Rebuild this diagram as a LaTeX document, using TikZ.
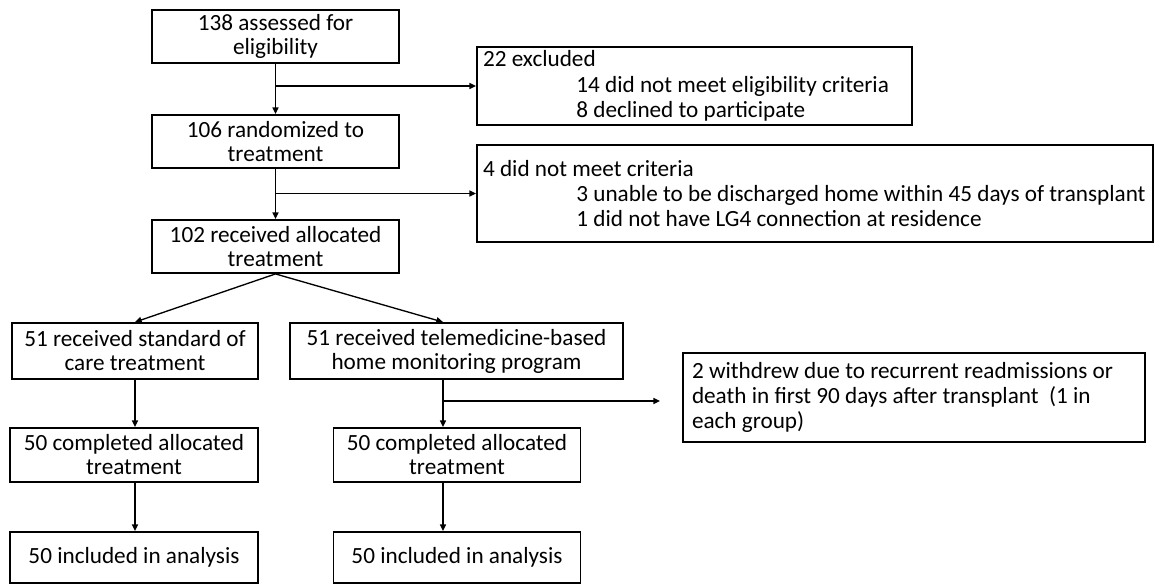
\documentclass[tikz,border=0pt]{standalone}
\usepackage{fontspec}
\setmainfont{Carlito}
\usetikzlibrary{arrows.meta,calc}

\tikzset{
  stage/.style={draw, line width=1.4pt, align=center, inner sep=2pt,
    font=\fontsize{17.4}{18}\selectfont},
  boxsize/.style 2 args={minimum width=#1*0.75pt, minimum height=#2*0.75pt},
  note/.style={draw, line width=1.4pt, align=flush left, inner ysep=2pt,
    font=\fontsize{17.4}{19}\selectfont},
  flow/.style={-{Triangle[length=5pt,width=4.5pt]}, line width=1pt},
}

\begin{document}
\begin{tikzpicture}[x=0.75pt, y=-0.75pt]
  \useasboundingbox (0,0) rectangle (1154,585);
  % main column
  \node[stage, boxsize={247}{53}] (assessed) at (275.5,36.5) {138 assessed for\\eligibility};
  \node[stage, boxsize={247}{53}] (random) at (275.5,141.5) {106 randomized to\\treatment};
  \node[stage, boxsize={247}{53}] (alloc) at (275.5,246.5) {102 received allocated\\treatment};
  % side boxes
  \node[note, inner xsep=4.5pt, text width=317.25pt, minimum height=58.5pt] (excl) at (694.5,86)
    {22 excluded\\
     \hspace*{70pt}14 did not meet eligibility criteria\\
     \hspace*{70pt}8 declined to participate};
  \node[note, inner xsep=4.5pt, text width=498pt, minimum height=72.75pt] (crit) at (815,193.5)
    {4 did not meet criteria\\
     \mbox{\hspace*{70pt}3 unable to be discharged home within 45 days of transplant}\\
     \hspace*{70pt}1 did not have LG4 connection at residence};
  % two arms
  \node[stage, boxsize={246}{56}] (std) at (135,351) {51 received standard of\\care treatment};
  \node[stage, boxsize={333}{56}] (tele) at (456.5,351) {51 received telemedicine-based\\home monitoring program};
  \node[note, inner xsep=6.75pt, text width=333pt, minimum height=66.75pt] (wd) at (914,397.5)
    {\mbox{2 withdrew due to recurrent readmissions or}\\
     \mbox{death in first 90 days after transplant~ (1 in}\\
     each group)};
  \node[stage, boxsize={248}{54}] (compL) at (134,455) {50 completed allocated\\treatment};
  \node[stage, boxsize={247}{54}] (compR) at (457,455) {50 completed allocated\\treatment};
  \node[stage, boxsize={248}{51}] (inclL) at (134,557.5) {50 included in analysis};
  \node[stage, boxsize={247}{51}] (inclR) at (457,557.5) {50 included in analysis};
  \coordinate (tsplit) at (443,401);

  % connectors
  \draw[flow] (assessed) -- (random);
  \draw[flow] (assessed.south |- excl.west) -- (excl.west);
  \draw[flow] (random) -- (alloc);
  \draw[flow] (random.south |- crit.west) -- (crit.west);
  \draw[flow] (alloc.south) -- (std.north);
  \draw[flow] (alloc.south) -- (tele.north -| tsplit);
  \draw[flow] (tele.south -| tsplit) -- (compR.north -| tsplit);
  \draw[flow, shorten >=16.5pt] (tsplit) -- (wd.west |- tsplit);
  \draw[flow] (std.south) -- (std.south |- compL.north);
  \draw[flow] (compL.south -| std.south) -- (inclL.north -| std.south);
  \draw[flow] (compR.south -| tsplit) -- (inclR.north -| tsplit);
\end{tikzpicture}
\end{document}
